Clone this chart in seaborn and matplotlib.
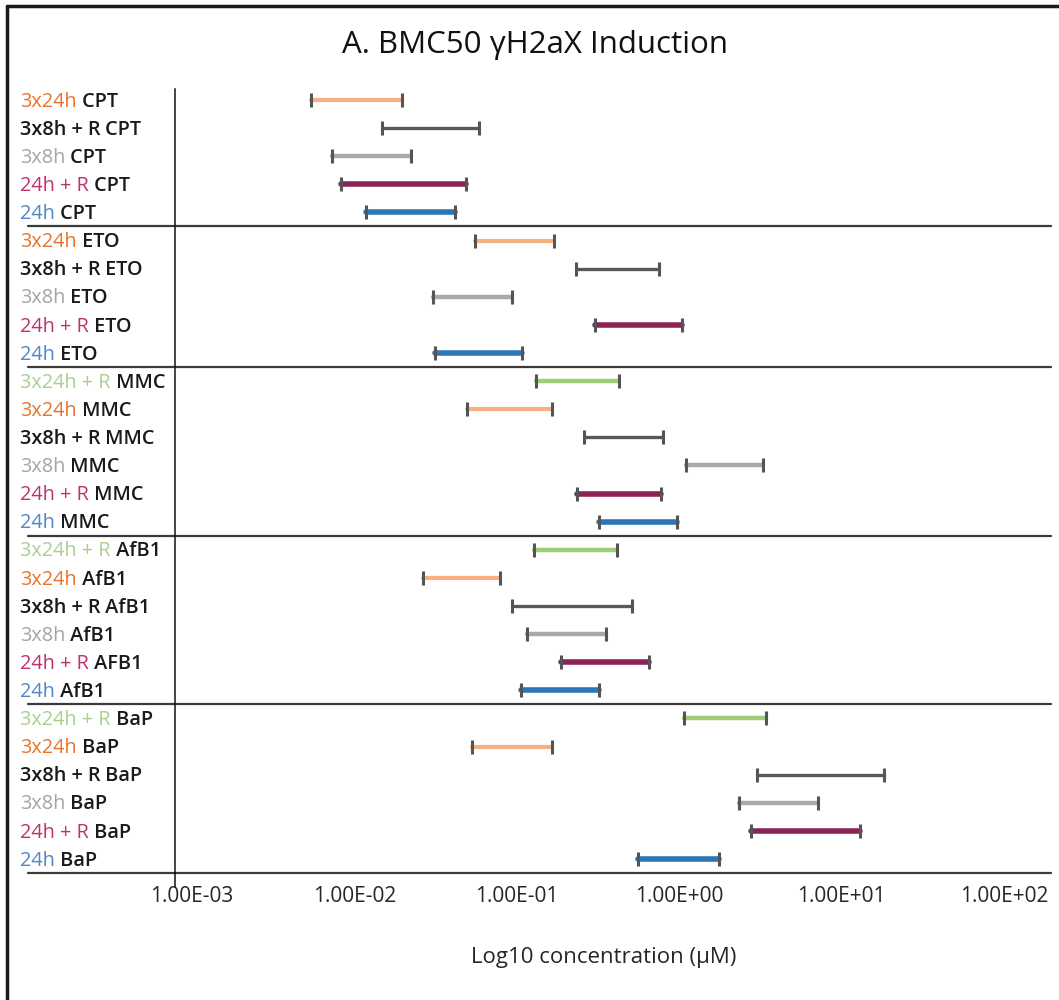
import numpy as np
import pandas as pd
import seaborn as sns
import matplotlib.pyplot as plt
from matplotlib import transforms
from matplotlib.lines import Line2D
from matplotlib.ticker import NullLocator

# données (µM)
treatments = ["3x24h", "3x8h + R", "3x8h", "24h + R", "24h",
              "3x24h", "3x8h + R", "3x8h", "24h + R", "24h",
              "3x24h + R", "3x24h", "3x8h + R", "3x8h", "24h + R", "24h",
              "3x24h + R", "3x24h", "3x8h + R", "3x8h", "24h + R", "24h",
              "3x24h + R", "3x24h", "3x8h + R", "3x8h", "24h + R", "24h"]
compounds = ["CPT"] * 5 + ["ETO"] * 5 + ["MMC"] * 6 + \
            ["AfB1", "AfB1", "AfB1", "AfB1", "AFB1", "AfB1"] + ["BaP"] * 6
group_sizes = [5, 5, 6, 6, 6]
low = [0.0054, 0.0148, 0.0073, 0.0083, 0.0117,
       0.0553, 0.232, 0.0305, 0.304, 0.0315,
       0.131, 0.0495, 0.259, 1.10, 0.234, 0.319,
       0.127, 0.0264, 0.0933, 0.116, 0.186, 0.106,
       1.07, 0.0527, 3.01, 2.34, 2.76, 0.554]
high = [0.0195, 0.0585, 0.0224, 0.0487, 0.0415,
        0.170, 0.753, 0.0933, 1.045, 0.108,
        0.424, 0.164, 0.798, 3.30, 0.773, 0.972,
        0.416, 0.079, 0.509, 0.354, 0.652, 0.319,
        3.41, 0.165, 18.3, 7.19, 13.0, 1.76]
tick_values = [1e-3, 1e-2, 1e-1, 1e0, 1e1, 1e2]
tick_labels = ["1.00E-03", "1.00E-02", "1.00E-01", "1.00E+00", "1.00E+01", "1.00E+02"]

bar_colors = {"3x24h + R": "#9fce78", "3x24h": "#f5b183", "3x8h + R": "#595959",
              "3x8h": "#a9a9a9", "24h + R": "#8c2357", "24h": "#2e75b6"}
bar_widths = {"3x24h + R": 3.2, "3x24h": 3.0, "3x8h + R": 2.4,
              "3x8h": 3.2, "24h + R": 4.0, "24h": 4.0}
text_colors = {"3x24h + R": "#a9d18e", "3x24h": "#e8742c", "3x8h + R": "#1a1a1a",
               "3x8h": "#a5a5a5", "24h + R": "#c1306f", "24h": "#4f87c7"}

rows = []
for i, (t, lo, hi) in enumerate(zip(treatments, low, high)):
    rows.append({"row": i, "conc": lo, "traitement": t})
    rows.append({"row": i, "conc": hi, "traitement": t})
df = pd.DataFrame(rows)

sns.set_style("white")
plt.rcParams["font.family"] = ["Open Sans", "DejaVu Sans"]

W, H = 1059, 1000
fig = plt.figure(figsize=(W / 100, H / 100), dpi=100)
ax = fig.add_axes([175 / W, 1 - 873 / H, (1051 - 175) / W, (873 - 89) / H])

ax.set_xscale("log")
sns.lineplot(data=df, x="conc", y="row", hue="traitement", size="traitement",
             palette=bar_colors, sizes=bar_widths, units="row", estimator=None,
             legend=False, ax=ax, zorder=2)
sns.scatterplot(data=df, x="conc", y="row", marker="|", s=95, color="#555555",
                linewidth=2.2, legend=False, ax=ax, zorder=3)

ax.set_xlim(10 ** -3.105, 10 ** 2.289)
ax.set_ylim(27.5, -0.39)
ax.set_xticks(tick_values)
ax.set_xticklabels(tick_labels, fontsize=15, color="#262626")
ax.xaxis.set_minor_locator(NullLocator())
ax.tick_params(axis="x", length=0, pad=9)
ax.set_yticks([])
ax.set_xlabel("")
ax.set_ylabel("")
for s in ["top", "right", "bottom"]:
    ax.spines[s].set_visible(False)
ax.spines["left"].set_color("#111111")
ax.spines["left"].set_linewidth(1.1)
ax.plot([0, 0], [0, -14 / 784], transform=ax.transAxes, clip_on=False,
        color="#111111", lw=1.1)

# lignes de séparation entre composés
fig_data = transforms.blended_transform_factory(fig.transFigure, ax.transData)
edges = np.cumsum(group_sizes) - 0.5
for y in edges:
    ax.plot([28 / W, 1051 / W], [y, y], transform=fig_data, clip_on=False,
            color="#3a3a3a", lw=1.6, zorder=1)

# étiquettes en deux couleurs
for i, (t, c) in enumerate(zip(treatments, compounds)):
    w1 = "semibold" if t == "3x8h + R" else "normal"
    first = ax.text(20 / W, i + 0.06, t, transform=fig_data, ha="left", va="center",
                    fontsize=14.3, color=text_colors[t], fontweight=w1)
    ax.annotate(" " + c, xy=(1, 0.5), xycoords=first, ha="left", va="center",
                fontsize=14.3, color="#1a1a1a", fontweight="semibold")

fig.text(535 / W, 1 - 45 / H, "A. BMC50 γH2aX Induction", ha="center", va="center",
         fontsize=22.5, color="#111111")
fig.text(604 / W, 1 - 957 / H, "Log10 concentration (µM)", ha="center", va="center",
         fontsize=16, color="#262626")

# cadre
fig.add_artist(Line2D([7 / W, 1], [1 - 6 / H, 1 - 6 / H], transform=fig.transFigure,
                      color="#1a1a1a", lw=2.5))
fig.add_artist(Line2D([7 / W, 7 / W], [0, 1 - 6 / H], transform=fig.transFigure,
                      color="#1a1a1a", lw=2.5))

fig.savefig("out.png", dpi=100)
